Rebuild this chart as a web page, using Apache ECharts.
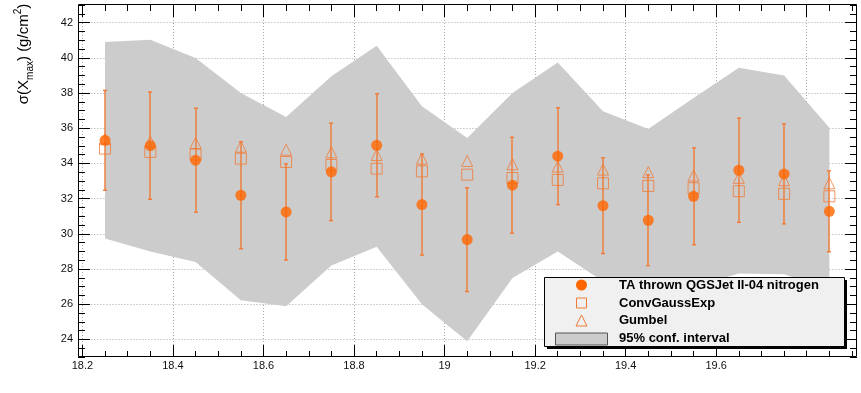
<!DOCTYPE html>
<html>
<head>
<meta charset="utf-8">
<script src="https://cdn.jsdelivr.net/npm/echarts@6/dist/echarts.min.js"></script>
<style>
  html, body { margin: 0; padding: 0; background: #ffffff; }
  #chart { width: 861px; height: 393px; }
</style>
</head>
<body>
<div id="chart"></div>
<script>
// log10(E/eV) bin centres
const energy = [18.25, 18.35, 18.45, 18.55, 18.65, 18.75, 18.85, 18.95, 19.05,
                19.15, 19.25, 19.35, 19.45, 19.55, 19.65, 19.75, 19.85];

// TA thrown QGSJet II-04 nitrogen: sigma(Xmax) and its uncertainty (g/cm^2)
const taSigma = [35.31, 35.01, 34.18, 32.19, 31.24, 33.52, 35.03, 31.66, 29.67,
                 32.76, 34.41, 31.60, 30.77, 32.13, 33.61, 33.40, 31.28];
const taError = [2.84, 3.05, 2.95, 3.04, 2.73, 2.77, 2.93, 2.87, 2.95,
                 2.73, 2.75, 2.72, 2.58, 2.75, 2.96, 2.84, 2.30];

// Fitted widths
const convGaussExp = [34.84, 34.65, 34.50, 34.27, 34.08, 33.91, 33.70, 33.55, 33.36,
                      33.17, 33.06, 32.87, 32.72, 32.59, 32.42, 32.27, 32.13];
const gumbel = [35.38, 35.24, 35.16, 34.95, 34.78, 34.63, 34.48, 34.27, 34.14,
                33.95, 33.82, 33.65, 33.50, 33.31, 33.18, 33.04, 32.87];

// 95% confidence interval
const bandHigh = [40.90, 41.03, 39.99, 38.00, 36.64, 38.95, 40.69, 37.25, 35.45,
                  38.00, 39.74, 36.96, 35.96, 37.72, 39.43, 38.99, 36.02];
const bandLow = [29.73, 29.00, 28.40, 26.22, 25.88, 28.20, 29.26, 26.00, 23.90,
                 27.49, 29.00, 27.30, 27.00, 27.00, 27.75, 27.70, 26.80];

// Axis tick labels
const xTickLabels = [18.2, 18.4, 18.6, 18.8, 19, 19.2, 19.4, 19.6, 19.8];
const yTickLabels = [24, 26, 28, 30, 32, 34, 36, 38, 40, 42];

const legendLabels = ['TA thrown QGSJet II-04 nitrogen', 'ConvGaussExp', 'Gumbel', '95% conf. interval'];

const FONT = '"Liberation Sans", Arial, Helvetica, sans-serif';
const DOT_COLOR = '#ff6600';
const LINE_COLOR = '#f07a36';
const BAND_COLOR = '#cccccc';

const chart = echarts.init(document.getElementById('chart'), null, { renderer: 'canvas' });

const gridLine = { show: true, lineStyle: { color: '#a8a8a8', width: 1, type: [1, 2] } };
const tickStyle = { color: '#000000', width: 1 };

function xAxisMajor(pos, labels) {
  return {
    type: 'value', position: pos, min: 18.2, max: 19.9,
    axisLine: { show: false },
    axisTick: { show: true, inside: true, length: 12, customValues: xTickLabels, lineStyle: tickStyle },
    axisLabel: {
      show: labels, customValues: xTickLabels, showMaxLabel: false,
      fontFamily: FONT, fontSize: 11, color: '#111', margin: 3,
      formatter: v => String(+(+v).toFixed(1))
    },
    splitLine: labels ? gridLine : { show: false }
  };
}
function xAxisMinor(pos) {
  return {
    type: 'value', position: pos, min: 18.2, max: 19.9, interval: 0.05,
    axisLine: { show: false },
    axisTick: { show: true, inside: true, length: 6, lineStyle: tickStyle },
    axisLabel: { show: false },
    splitLine: { show: false }
  };
}
function yAxisMajor(pos, labels, off) {
  return {
    type: 'value', position: pos, min: 23, max: 43, offset: off,
    axisLine: { show: false },
    axisTick: { show: true, inside: true, length: 12, customValues: yTickLabels, lineStyle: tickStyle },
    axisLabel: {
      show: labels, customValues: yTickLabels,
      fontFamily: FONT, fontSize: 11, color: '#111', margin: 5
    },
    splitLine: labels ? gridLine : { show: false }
  };
}
function yAxisMinor(pos, off) {
  return {
    type: 'value', position: pos, min: 23, max: 43, interval: 0.5, offset: off,
    axisLine: { show: false },
    axisTick: { show: true, inside: true, length: 7, lineStyle: tickStyle },
    axisLabel: { show: false },
    splitLine: { show: false }
  };
}

const bandData = energy.map((e, i) => [e, bandLow[i], bandHigh[i]]);
const errData = energy.map((e, i) => [e, taSigma[i] - taError[i], taSigma[i] + taError[i]]);

// legend box drawn on top of the plot area
const LZ = 200;
const legendText = (i, y) => ({
  type: 'text', z: LZ + 2, x: 619, y: y, silent: true,
  style: { text: legendLabels[i], font: 'bold 13px ' + FONT, fill: '#000', textVerticalAlign: 'middle' }
});

const option = {
  animation: false,
  backgroundColor: '#ffffff',
  grid: { left: 82.4, right: 9, top: 5, bottom: 36, containLabel: false },
  xAxis: [xAxisMajor('bottom', true), xAxisMinor('bottom'), xAxisMajor('top', false), xAxisMinor('top')],
  yAxis: [yAxisMajor('left', true, 4.4), yAxisMinor('left', 4.4), yAxisMajor('right', false, 5), yAxisMinor('right', 5)],
  series: [
    {
      name: legendLabels[3], type: 'custom', z: 1,
      data: bandData,
      renderItem: function (params, api) {
        if (params.dataIndex !== 0) return null;
        const pts = [];
        for (let i = 0; i < bandData.length; i++) pts.push(api.coord([bandData[i][0], bandData[i][2]]));
        for (let i = bandData.length - 1; i >= 0; i--) pts.push(api.coord([bandData[i][0], bandData[i][1]]));
        return { type: 'polygon', shape: { points: pts }, style: { fill: BAND_COLOR, stroke: null } };
      }
    },
    {
      name: 'errors', type: 'custom', z: 3,
      data: errData,
      renderItem: function (params, api) {
        const x = api.value(0);
        const lo = api.coord([x, api.value(1)]);
        const hi = api.coord([x, api.value(2)]);
        const cx = Math.round(lo[0]);
        const st = { stroke: LINE_COLOR, lineWidth: 1.4 };
        return {
          type: 'group',
          children: [
            { type: 'line', shape: { x1: cx, y1: hi[1], x2: cx, y2: lo[1] }, style: st },
            { type: 'line', shape: { x1: cx - 2, y1: hi[1], x2: cx + 2, y2: hi[1] }, style: st },
            { type: 'line', shape: { x1: cx - 2, y1: lo[1], x2: cx + 2, y2: lo[1] }, style: st }
          ]
        };
      }
    },
    {
      name: legendLabels[1], type: 'scatter', z: 4,
      symbol: 'rect', symbolSize: 11,
      data: energy.map((e, i) => [e, convGaussExp[i]]),
      itemStyle: { color: 'rgba(0,0,0,0)', borderColor: LINE_COLOR, borderWidth: 1 },
      emphasis: { disabled: true }
    },
    {
      name: legendLabels[2], type: 'scatter', z: 5,
      symbol: 'triangle', symbolSize: [11, 11],
      data: energy.map((e, i) => [e, gumbel[i]]),
      itemStyle: { color: 'rgba(0,0,0,0)', borderColor: LINE_COLOR, borderWidth: 1 },
      emphasis: { disabled: true }
    },
    {
      name: legendLabels[0], type: 'scatter', z: 6,
      symbol: 'circle', symbolSize: 11,
      data: energy.map((e, i) => [e, taSigma[i]]),
      itemStyle: { color: DOT_COLOR },
      emphasis: { disabled: true }
    }
  ],
  graphic: [
    // plot frame
    { type: 'rect', z: 150, silent: true,
      shape: { x: 78.5, y: 4.5, width: 778, height: 352 },
      style: { fill: 'none', stroke: '#000', lineWidth: 1 } },
    // y-axis title
    { type: 'text', z: 150, x: 24, y: 54, rotation: Math.PI / 2, silent: true,
      style: {
        text: '{a|σ(X}{b|max}{a|) (g/cm}{c|2}{a|)}',
        textAlign: 'center', textVerticalAlign: 'middle',
        rich: {
          a: { fontFamily: FONT, fontSize: 15, fill: '#000', lineHeight: 22, verticalAlign: 'middle' },
          b: { fontFamily: FONT, fontSize: 10, fill: '#000', lineHeight: 10, verticalAlign: 'bottom' },
          c: { fontFamily: FONT, fontSize: 10, fill: '#000', lineHeight: 10, verticalAlign: 'top' }
        }
      } },
    // legend
    { type: 'rect', z: LZ, silent: true, shape: { x: 547, y: 280, width: 300, height: 69 }, style: { fill: '#000' } },
    { type: 'rect', z: LZ + 1, silent: true, shape: { x: 544.5, y: 277.5, width: 300, height: 69 },
      style: { fill: '#f0f0f0', stroke: '#000', lineWidth: 1 } },
    { type: 'circle', z: LZ + 2, silent: true, shape: { cx: 581.5, cy: 285, r: 5.5 }, style: { fill: DOT_COLOR } },
    { type: 'rect', z: LZ + 2, silent: true, shape: { x: 576.5, y: 298, width: 10, height: 10 },
      style: { fill: 'none', stroke: LINE_COLOR, lineWidth: 1 } },
    { type: 'polygon', z: LZ + 2, silent: true, shape: { points: [[581.5, 315], [576, 326], [587, 326]] },
      style: { fill: 'none', stroke: LINE_COLOR, lineWidth: 1 } },
    { type: 'rect', z: LZ + 2, silent: true, shape: { x: 555.5, y: 333, width: 52, height: 12 },
      style: { fill: BAND_COLOR, stroke: '#555', lineWidth: 1 } },
    legendText(0, 285),
    legendText(1, 303),
    legendText(2, 320.5),
    legendText(3, 338.5)
  ]
};

chart.setOption(option);
</script>
</body>
</html>
